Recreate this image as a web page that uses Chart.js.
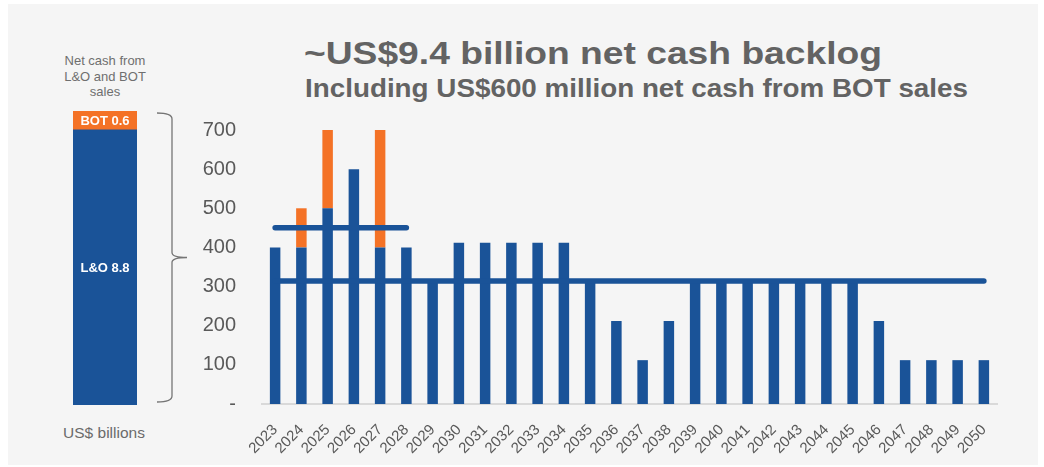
<!DOCTYPE html>
<html>
<head>
<meta charset="utf-8">
<title>Net cash backlog</title>
<script src="https://cdn.jsdelivr.net/npm/chart.js@4.4.0/dist/chart.umd.min.js"></script>
<style>
  html, body { margin: 0; padding: 0; background: #fff; }
  body { width: 1044px; height: 467px; position: relative; overflow: hidden;
         font-family: "Liberation Sans", Arial, sans-serif; }
  #panel { position: absolute; left: 8px; top: 4px; width: 1030px; height: 461px; background: #f5f5f5; }
  .txt { position: absolute; white-space: nowrap; line-height: 1; transform-origin: 0 0; }
  #title { left: 304px; top: 37px; font-size: 32px; font-weight: bold; color: #636363; }
  #subtitle { left: 305px; top: 75px; font-size: 26px; font-weight: bold; color: #636363; }
  #caption { left: 45px; top: 53px; width: 120px; text-align: center; font-size: 13px;
             line-height: 15.5px; color: #6f6f6f; }
  #units { left: 44px; top: 425px; width: 120px; text-align: center; font-size: 15.5px; color: #6a6a6a; }
  #totalBox { position: absolute; left: 40px; top: 0; width: 160px; height: 467px; }
  #yearBox { position: absolute; left: 190px; top: 0; width: 854px; height: 467px; }
</style>
</head>
<body>
<div id="panel"></div>
<div class="txt" id="title">~US$9.4 billion net cash backlog</div>
<div class="txt" id="subtitle">Including US$600 million net cash from BOT sales</div>
<div class="txt" id="caption">Net cash from<br>L&amp;O and BOT<br>sales</div>
<div class="txt" id="units">US$ billions</div>
<div id="totalBox"><canvas id="totalChart"></canvas></div>
<div id="yearBox"><canvas id="yearChart"></canvas></div>

<script>
// yearly net cash, US$ millions
const years = ['2023', '2024', '2025', '2026', '2027', '2028', '2029', '2030', '2031', '2032',
  '2033', '2034', '2035', '2036', '2037', '2038', '2039', '2040', '2041', '2042',
  '2043', '2044', '2045', '2046', '2047', '2048', '2049', '2050'];
const leaseOps = [400, 400, 500, 600, 400, 400, 316, 412, 412, 412,
  412, 412, 316, 212, 112, 212, 316, 316, 316, 316,
  316, 316, 316, 212, 112, 112, 112, 112];
const botSales = [0, 100, 200, 0, 300, 0, 0, 0, 0, 0,
  0, 0, 0, 0, 0, 0, 0, 0, 0, 0,
  0, 0, 0, 0, 0, 0, 0, 0];
// averages: L&O 2023-2028 and L&O over the whole period
const nearAvg = [450, 450, 450, 450, 450, 450, null, null, null, null,
  null, null, null, null, null, null, null, null, null, null,
  null, null, null, null, null, null, null, null];
const fullAvg = [314, 314, 314, 314, 314, 314, 314, 314, 314, 314,
  314, 314, 314, 314, 314, 314, 314, 314, 314, 314,
  314, 314, 314, 314, 314, 314, 314, 314];
const yTicks = [0, 100, 200, 300, 400, 500, 600, 700];

// totals, US$ billions
const totalLeaseOps = 8.8;
const totalBot = 0.6;

const BLUE = '#1a5398';
const ORANGE = '#f47226';
const FONT = '"Liberation Sans", Arial, sans-serif';

function fitWidth(id, w) {
  const el = document.getElementById(id);
  el.style.transform = 'scaleX(' + (w / el.getBoundingClientRect().width) + ')';
}
fitWidth('title', 578);
fitWidth('subtitle', 663);

// white labels in the middle of each stacked segment
const segmentLabels = {
  id: 'segmentLabels',
  afterDatasetsDraw(chart) {
    const ctx = chart.ctx;
    ctx.save();
    ctx.font = 'bold 13px ' + FONT;
    ctx.fillStyle = '#ffffff';
    ctx.textAlign = 'center';
    ctx.textBaseline = 'middle';
    chart.data.datasets.forEach((ds, i) => {
      const bar = chart.getDatasetMeta(i).data[0];
      ctx.fillText(ds.label + ' ' + ds.data[0], bar.x, (bar.y + bar.base) / 2 + 1);
    });
    ctx.restore();
  }
};

// curly brace to the right of the total bar
const brace = {
  id: 'brace',
  afterDraw(chart) {
    const { ctx, chartArea } = chart;
    const top = chartArea.top + 2;
    const bottom = chartArea.bottom - 3;
    const mid = (top + bottom) / 2;
    const x0 = chartArea.right + 20;
    const xv = x0 + 15;
    const xt = x0 + 30;
    ctx.save();
    ctx.strokeStyle = '#757575';
    ctx.lineWidth = 1.3;
    ctx.beginPath();
    ctx.moveTo(x0, top);
    ctx.quadraticCurveTo(xv, top, xv, top + 6);
    ctx.lineTo(xv, mid - 5);
    ctx.quadraticCurveTo(xv, mid, xt, mid);
    ctx.moveTo(xt, mid);
    ctx.quadraticCurveTo(xv, mid, xv, mid + 5);
    ctx.lineTo(xv, bottom - 6);
    ctx.quadraticCurveTo(xv, bottom, x0, bottom);
    ctx.stroke();
    ctx.restore();
  }
};

new Chart(document.getElementById('totalChart'), {
  type: 'bar',
  data: {
    labels: [''],
    datasets: [
      { label: 'L&O', data: [totalLeaseOps], backgroundColor: BLUE, borderWidth: 0 },
      { label: 'BOT', data: [totalBot], backgroundColor: ORANGE, borderWidth: 0 }
    ]
  },
  options: {
    responsive: true,
    maintainAspectRatio: false,
    animation: false,
    layout: { padding: { left: 33, right: 63, top: 111, bottom: 62 } },
    datasets: { bar: { barPercentage: 1, categoryPercentage: 1 } },
    plugins: { legend: { display: false }, tooltip: { enabled: false } },
    scales: {
      x: { stacked: true, display: false },
      y: { stacked: true, display: false, min: 0, max: totalLeaseOps + totalBot }
    }
  },
  plugins: [segmentLabels, brace]
});

new Chart(document.getElementById('yearChart'), {
  type: 'bar',
  data: {
    labels: years,
    datasets: [
      { type: 'line', label: 'L&O average 2023-2028', data: nearAvg, stack: 'near', order: 0,
        borderColor: BLUE, borderWidth: 5.5, borderCapStyle: 'round', pointRadius: 0, fill: false },
      { type: 'line', label: 'L&O average', data: fullAvg, stack: 'full', order: 0,
        borderColor: BLUE, borderWidth: 5.5, borderCapStyle: 'round', pointRadius: 0, fill: false },
      { label: 'L&O', data: leaseOps, backgroundColor: BLUE, borderWidth: 0, order: 1 },
      { label: 'BOT', data: botSales, backgroundColor: ORANGE, borderWidth: 0, order: 1 }
    ]
  },
  options: {
    responsive: true,
    maintainAspectRatio: false,
    animation: false,
    layout: { padding: { left: 0, right: 47, top: 130, bottom: 0 } },
    datasets: { bar: { barPercentage: 0.4, categoryPercentage: 1 } },
    plugins: { legend: { display: false }, tooltip: { enabled: false } },
    scales: {
      x: {
        stacked: true,
        grid: { display: false, drawTicks: false },
        border: { color: '#d9d9d9', width: 2 },
        ticks: {
          autoSkip: false, maxRotation: 45, minRotation: 45, padding: 17,
          color: '#595959', font: { family: FONT, size: 15 }
        },
        afterFit(scale) { scale.height = 63; }
      },
      y: {
        stacked: true,
        min: yTicks[0],
        max: yTicks[yTicks.length - 1],
        grid: { display: false, drawTicks: false },
        border: { display: false },
        afterBuildTicks(scale) { scale.ticks = yTicks.map(v => ({ value: v })); },
        ticks: {
          padding: 26,
          color: '#595959',
          font: { family: FONT, size: 20 },
          callback: v => (v === 0 ? '-' : v)
        },
        afterFit(scale) { scale.width = 72; }
      }
    }
  }
});
</script>
</body>
</html>
